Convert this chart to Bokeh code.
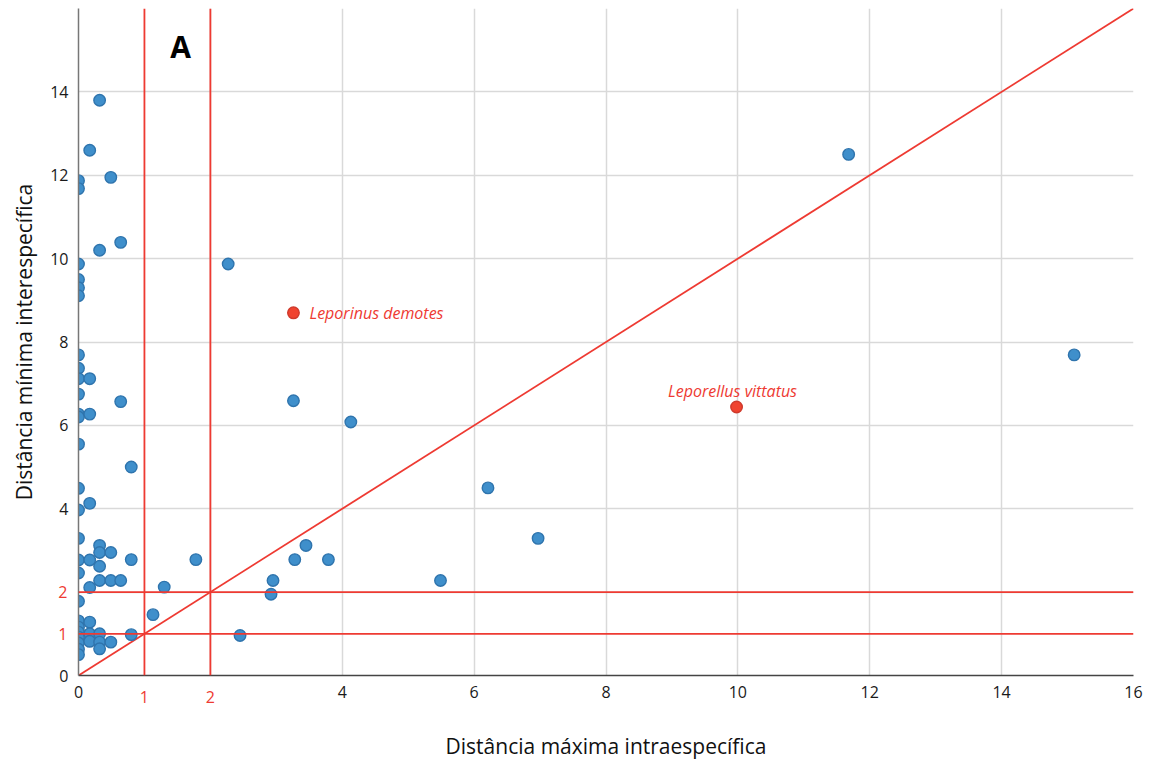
from bokeh.plotting import figure
from bokeh.models import Span, Label, FixedTicker, LinearAxis
from bokeh.embed import file_html
from bokeh.resources import INLINE

# ---- data ----
blue_x = [0, 0, 0, 0, 0, 0, 0, 0, 0, 0, 0, 0, 0, 0, 0, 0, 0, 0, 0, 0, 0, 0, 0, 0, 0, 0,
          0.17, 0.17, 0.17, 0.17, 0.17, 0.17, 0.17, 0.17, 0.17,
          0.32, 0.32, 0.32, 0.32, 0.32, 0.32, 0.32, 0.32, 0.32,
          0.49, 0.49, 0.49, 0.49,
          0.64, 0.64, 0.64,
          0.80, 0.80, 0.80,
          1.13, 1.30, 1.78, 2.27, 2.45, 2.92, 2.95, 3.26, 3.28, 3.45, 3.79, 4.13,
          5.49, 6.21, 6.97, 11.68, 15.1]
blue_y = [11.87, 11.68, 9.87, 9.50, 9.30, 9.11, 7.69, 7.37, 7.12, 6.75, 6.27, 6.20, 5.55,
          4.49, 3.97, 3.29, 2.77, 2.46, 1.78, 1.31, 1.16, 1.04, 0.92, 0.78, 0.63, 0.50,
          12.6, 7.12, 6.27, 4.13, 2.77, 2.11, 1.28, 1.0, 0.82,
          13.8, 10.2, 3.12, 2.95, 2.62, 2.28, 1.0, 0.80, 0.64,
          11.95, 2.95, 2.28, 0.80,
          10.39, 6.57, 2.28,
          5.0, 2.78, 0.98,
          1.46, 2.12, 2.78, 9.87, 0.96, 1.95, 2.28, 6.59, 2.78, 3.12, 2.78, 6.08,
          2.28, 4.50, 3.29, 12.5, 7.69]

red_x = [3.26, 9.98]
red_y = [8.70, 6.44]
red_names = ["Leporinus demotes", "Leporellus vittatus"]

diag_x = [0, 16]
diag_y = [0, 16]
thresholds = [1, 2]
x_ticks = [0, 4, 6, 8, 10, 12, 14, 16]
y_ticks = [0, 4, 6, 8, 10, 12, 14]

RED = "#ee3a32"
FONT = "Open Sans"

p = figure(width=1154, height=764, x_range=(0, 16), y_range=(0, 16),
           output_backend="svg", toolbar_location=None,
           min_border_left=78, min_border_right=21, min_border_top=8, min_border_bottom=89)
p.outline_line_color = None
p.background_fill_color = "white"

# grid
p.xgrid.ticker = FixedTicker(ticks=[2, 4, 6, 8, 10, 12, 14, 16])
p.ygrid.ticker = FixedTicker(ticks=[2, 4, 6, 8, 10, 12, 14, 16])
for g in (p.xgrid, p.ygrid):
    g.grid_line_color = "#d9d9d9"
    g.grid_line_width = 1.5

# black axes (inner)
p.xaxis.ticker = FixedTicker(ticks=x_ticks)
p.yaxis.ticker = FixedTicker(ticks=y_ticks)
for ax in (p.xaxis, p.yaxis):
    ax.major_tick_line_color = None
    ax.minor_tick_line_color = None
    ax.major_tick_out = 0
    ax.major_tick_in = 0
    ax.minor_tick_out = 0
    ax.minor_tick_in = 0
    ax.major_label_text_font = FONT
    ax.major_label_text_font_size = "16px"
    ax.major_label_text_color = "#1a1a1a"
    ax.major_label_standoff = 10
p.xaxis.axis_line_color = "#444444"
p.xaxis.axis_line_width = 1.5
p.yaxis.axis_line_color = "#777777"
p.yaxis.axis_line_width = 1.5

# red threshold tick labels (outer axes, pulled back onto the same line)
red_xaxis = LinearAxis(ticker=FixedTicker(ticks=thresholds),
                       axis_label="Distância máxima intraespecífica")
red_yaxis = LinearAxis(ticker=FixedTicker(ticks=thresholds),
                       axis_label="Distância mínima interespecífica")
for ax in (red_xaxis, red_yaxis):
    ax.axis_line_color = None
    ax.major_tick_line_color = None
    ax.minor_tick_line_color = None
    ax.major_tick_out = 0
    ax.major_tick_in = 0
    ax.minor_tick_out = 0
    ax.minor_tick_in = 0
    ax.major_label_text_font = FONT
    ax.major_label_text_font_size = "16px"
    ax.major_label_text_color = RED
    ax.axis_label_text_font = FONT
    ax.axis_label_text_font_size = "21px"
    ax.axis_label_text_font_style = "normal"
    ax.axis_label_text_color = "#111111"
red_xaxis.major_label_standoff = -10
red_yaxis.major_label_standoff = -20
red_xaxis.axis_label_standoff = 26
red_yaxis.axis_label_standoff = 17
p.add_layout(red_xaxis, "below")
p.add_layout(red_yaxis, "left")

# threshold lines
for t in thresholds:
    p.add_layout(Span(location=t, dimension="height", line_color=RED, line_width=1.8))
    p.add_layout(Span(location=t, dimension="width", line_color=RED, line_width=1.8))
p.line(diag_x, diag_y, line_color=RED, line_width=1.8)

# points
p.scatter(blue_x, blue_y, size=11.5, fill_color="#3f8fcb", line_color="#2f74ad",
          line_width=1.4)
p.scatter(red_x, red_y, size=11.5, fill_color="#f0432f", line_color="#cf3a2c",
          line_width=1.4)

# species labels
p.add_layout(Label(x=red_x[0], y=red_y[0], text=red_names[0], text_color=RED,
                   text_font=FONT, text_font_style="italic", text_font_size="16px",
                   text_baseline="middle", x_offset=16))
p.add_layout(Label(x=red_x[1], y=red_y[1], text=red_names[1], text_color=RED,
                   text_font=FONT, text_font_style="italic", text_font_size="16px",
                   text_align="center", text_baseline="middle", x_offset=-4, y_offset=16))

# panel letter
p.add_layout(Label(x=1.55, y=15.1, text="A", text_font=FONT, text_font_style="bold",
                   text_font_size="30px", text_align="center", text_baseline="middle",
                   text_color="black"))

open("out.html", "w").write(file_html(p, INLINE))
